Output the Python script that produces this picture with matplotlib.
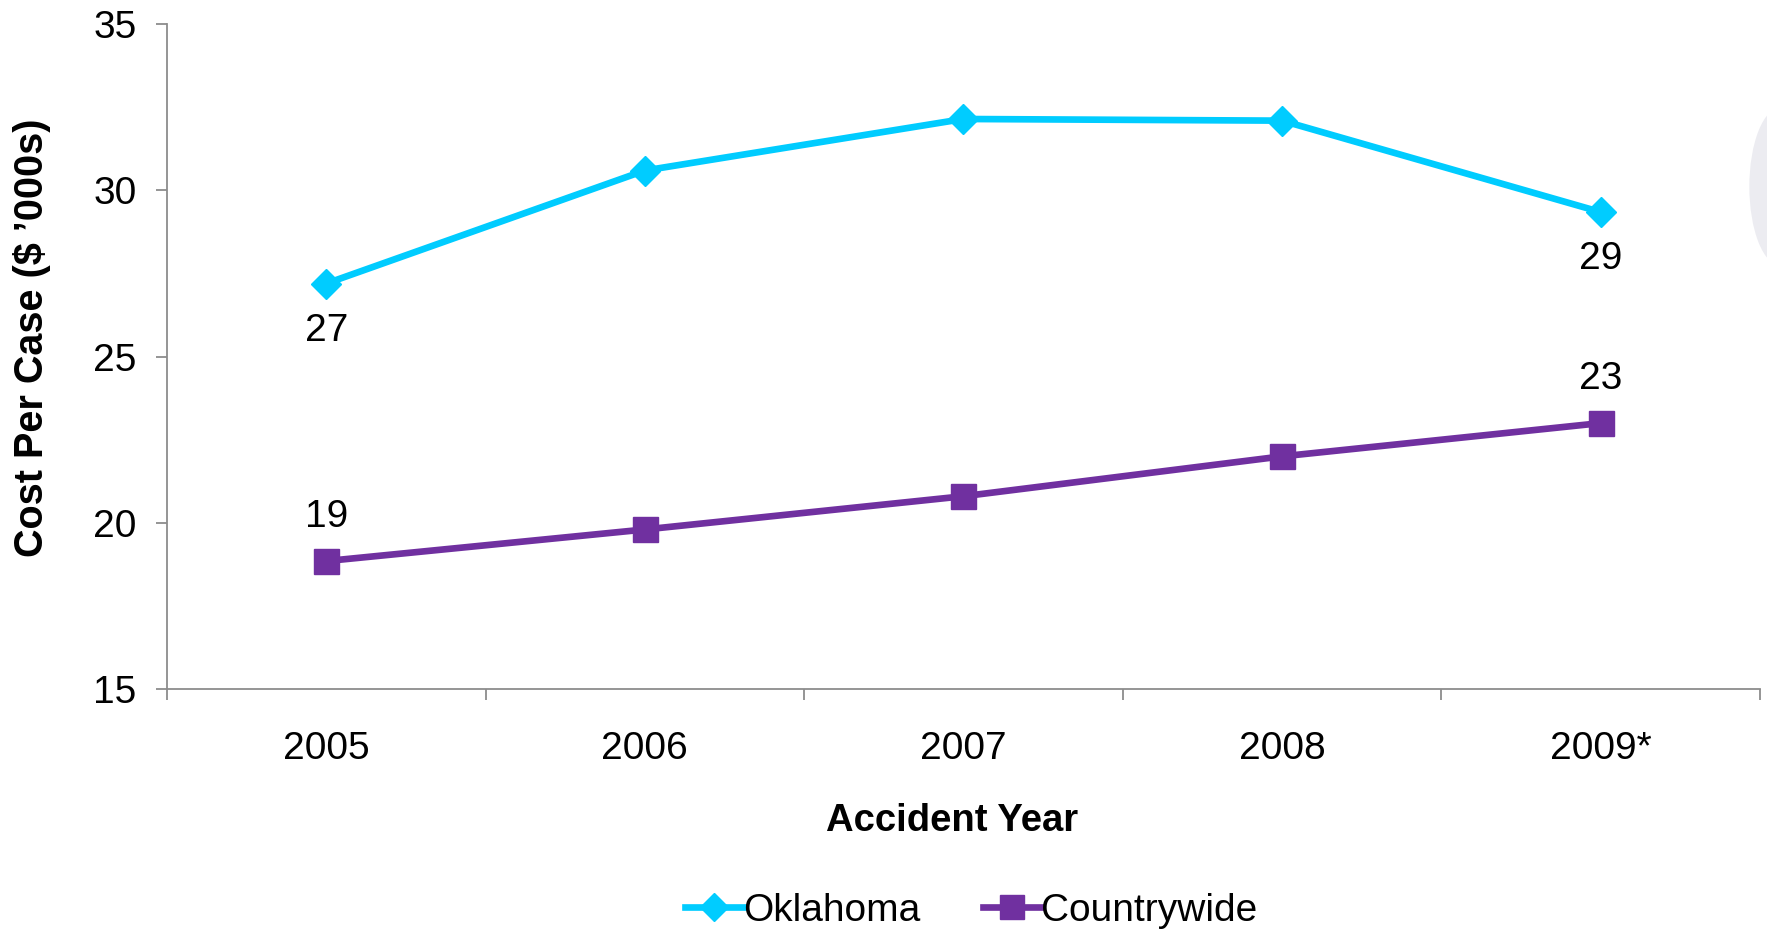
import matplotlib.pyplot as plt
from matplotlib.patches import Ellipse
import numpy as np

plt.rcParams['font.family'] = ['Liberation Sans', 'DejaVu Sans']

# data
years = ['2005', '2006', '2007', '2008', '2009*']
oklahoma = [27.2, 30.6, 32.15, 32.1, 29.35]
countrywide = [18.85, 19.8, 20.8, 22.0, 23.0]
oklahoma_labels = ['27', '', '', '', '29']
countrywide_labels = ['19', '', '', '', '23']

cyan = '#00CCFF'
purple = '#7030A0'
grey = '#8C8C8C'

fig = plt.figure(figsize=(17.67, 9.33), dpi=100)

# faint decoration at the right edge of the slide
fig.patches.append(Ellipse((1.008, 0.80), 0.036, 0.17, transform=fig.transFigure,
                           facecolor='#ECECF1', edgecolor='none', zorder=0))

ax = fig.add_axes([0.0945, 0.2615, 0.9015, 0.7125])
ax.patch.set_alpha(0)

x = np.arange(len(years))
ax.plot(x, oklahoma, color=cyan, lw=4.8, marker='D', ms=15, mec=cyan,
        label='Oklahoma')
ax.plot(x, countrywide, color=purple, lw=4.8, marker='s', ms=18, mec=purple,
        label='Countrywide')

# value labels on first and last points only
for xi, v, t in zip(x, oklahoma, oklahoma_labels):
    if t:
        ax.annotate(t, (xi, v), xytext=(0, -34), textcoords='offset points',
                    ha='center', va='center', fontsize=28)
for xi, v, t in zip(x, countrywide, countrywide_labels):
    if t:
        ax.annotate(t, (xi, v), xytext=(0, 32), textcoords='offset points',
                    ha='center', va='center', fontsize=28)

ax.set_xlim(-0.5, len(years) - 0.5)
ax.set_ylim(15, 35)
ax.set_yticks([15, 20, 25, 30, 35])

ax.set_xticks(x)
ax.set_xticklabels(years)
ax.set_xticks(np.arange(len(years) + 1) - 0.5, minor=True)
ax.tick_params(axis='x', which='major', length=0, pad=30, labelsize=28)
ax.tick_params(axis='x', which='minor', length=8, width=1.3, color=grey)
ax.tick_params(axis='y', length=8, width=1.3, color=grey, pad=14, labelsize=28)

for side in ['top', 'right']:
    ax.spines[side].set_visible(False)
for side in ['left', 'bottom']:
    ax.spines[side].set_color(grey)
    ax.spines[side].set_linewidth(1.3)

ax.set_ylabel('Cost Per Case ($ \u2019000s)', fontsize=28.5, fontweight='bold')
ax.yaxis.set_label_coords(-0.073, 0.528)
ax.set_xlabel('Accident Year', fontsize=27.5, fontweight='bold')
ax.xaxis.set_label_coords(0.493, -0.172)

ax.legend(loc='center', bbox_to_anchor=(0.505, -0.334), ncol=2, frameon=False,
          fontsize=28, handlelength=1.5, handletextpad=0.0, columnspacing=1.6,
          markerscale=0.95, borderaxespad=0)

fig.savefig('out.png', dpi=100)
